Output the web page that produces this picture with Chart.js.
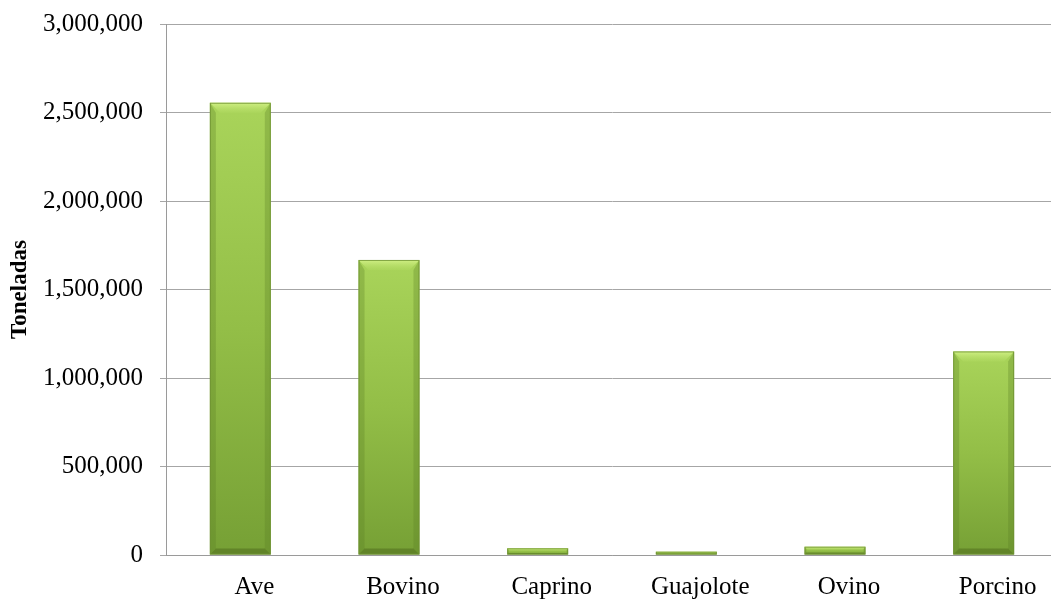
<!DOCTYPE html>
<html>
<head>
<meta charset="utf-8">
<script src="https://cdn.jsdelivr.net/npm/chart.js@4"></script>
<style>
    html, body { margin: 0; padding: 0; background: #fff; overflow: hidden; }
    #wrap { width: 1058px; height: 601px; }
</style>
</head>
<body>
<div id="wrap"><canvas id="prodChart" width="1058" height="601"></canvas></div>
<script>
const categories = ["Ave", "Bovino", "Caprino", "Guajolote", "Ovino", "Porcino"];
const toneladas = [2555000, 1667000, 38000, 19000, 47000, 1150000];
const yTicks = [0, 500000, 1000000, 1500000, 2000000, 2500000, 3000000];

const serif = "'Liberation Serif', 'Times New Roman', serif";

// gradient per bar, from its own top down to the base
function barFill(context) {
    const chart = context.chart;
    const y = chart.scales.y;
    if (!y || context.raw === undefined) return "#93be47";
    const top = y.getPixelForValue(context.raw);
    const bottom = y.getPixelForValue(0);
    if (!isFinite(top) || !isFinite(bottom) || bottom <= top) return "#93be47";
    const g = chart.ctx.createLinearGradient(0, top, 0, bottom);
    g.addColorStop(0, "#a9d45a");
    g.addColorStop(0.5, "#93be47");
    g.addColorStop(1, "#76a035");
    return g;
}

// bevel look on the bars
const bevel = {
    id: "bevel",
    afterDatasetsDraw(chart) {
        const ctx = chart.ctx;
        chart.getDatasetMeta(0).data.forEach(bar => {
            const l = bar.x - bar.width / 2, r = bar.x + bar.width / 2;
            const t = bar.y, b = bar.base;
            const h = b - t;
            const d = Math.min(10, h / 2.5);
            ctx.save();
            // top face
            const tg = ctx.createLinearGradient(0, t, 0, t + d + 0.01);
            tg.addColorStop(0, "rgba(215,245,140,0.85)");
            tg.addColorStop(1, "rgba(180,220,100,0.3)");
            ctx.fillStyle = tg;
            ctx.beginPath();
            ctx.moveTo(l, t); ctx.lineTo(r, t); ctx.lineTo(r - d, t + d); ctx.lineTo(l + d, t + d);
            ctx.closePath(); ctx.fill();
            // sides
            ctx.fillStyle = "rgba(90,125,35,0.3)";
            ctx.beginPath();
            ctx.moveTo(l, t); ctx.lineTo(l + d * 0.6, t + d); ctx.lineTo(l + d * 0.6, b - d * 0.6); ctx.lineTo(l, b);
            ctx.closePath(); ctx.fill();
            ctx.beginPath();
            ctx.moveTo(r, t); ctx.lineTo(r - d * 0.6, t + d); ctx.lineTo(r - d * 0.6, b - d * 0.6); ctx.lineTo(r, b);
            ctx.closePath(); ctx.fill();
            // bottom
            ctx.fillStyle = "rgba(80,110,30,0.55)";
            ctx.beginPath();
            ctx.moveTo(l, b); ctx.lineTo(r, b); ctx.lineTo(r - d * 0.6, b - d * 0.6); ctx.lineTo(l + d * 0.6, b - d * 0.6);
            ctx.closePath(); ctx.fill();
            ctx.strokeStyle = "rgba(110,145,50,0.8)";
            ctx.lineWidth = 1;
            ctx.strokeRect(l + 0.5, t + 0.5, r - l - 1, h - 1);
            ctx.restore();
        });
    }
};

const chart = new Chart(document.getElementById("prodChart").getContext("2d"), {
    type: "bar",
    data: {
        labels: categories,
        datasets: [{
            label: "Toneladas",
            data: toneladas,
            backgroundColor: barFill,
            borderWidth: 0,
            barPercentage: 0.41,
            categoryPercentage: 1
        }]
    },
    options: {
        responsive: false,
        animation: false,
        layout: { padding: { top: 24, left: 0, right: 0, bottom: 0 } },
        plugins: {
            legend: { display: false },
            tooltip: { enabled: false }
        },
        scales: {
            x: {
                grid: { display: false, drawTicks: false },
                border: { display: true, color: "#9a9a9a" },
                ticks: {
                    color: "#000",
                    font: { family: serif, size: 25 },
                    padding: 17,
                    labelOffset: 14,
                    maxRotation: 0
                },
                afterFit: s => { s.height = 46; s.paddingLeft = 0; s.paddingRight = 0; }
            },
            y: {
                min: 0,
                max: 3000000,
                afterBuildTicks: s => { s.ticks = yTicks.map(v => ({ value: v })); },
                grid: { color: "#a6a6a6", tickLength: 6, lineWidth: 1 },
                border: { color: "#9a9a9a" },
                ticks: {
                    color: "#000",
                    font: { family: serif, size: 25 },
                    padding: 17,
                    callback: v => v.toLocaleString("en-US")
                },
                title: {
                    display: true,
                    text: "Toneladas",
                    color: "#000",
                    font: { family: serif, size: 23, weight: "bold" },
                    padding: { top: 6, bottom: 0 }
                },
                afterFit: s => { s.width = 166; s.paddingTop = 0; s.paddingBottom = 0; }
            }
        }
    },
    plugins: [bevel]
});
</script>
</body>
</html>
